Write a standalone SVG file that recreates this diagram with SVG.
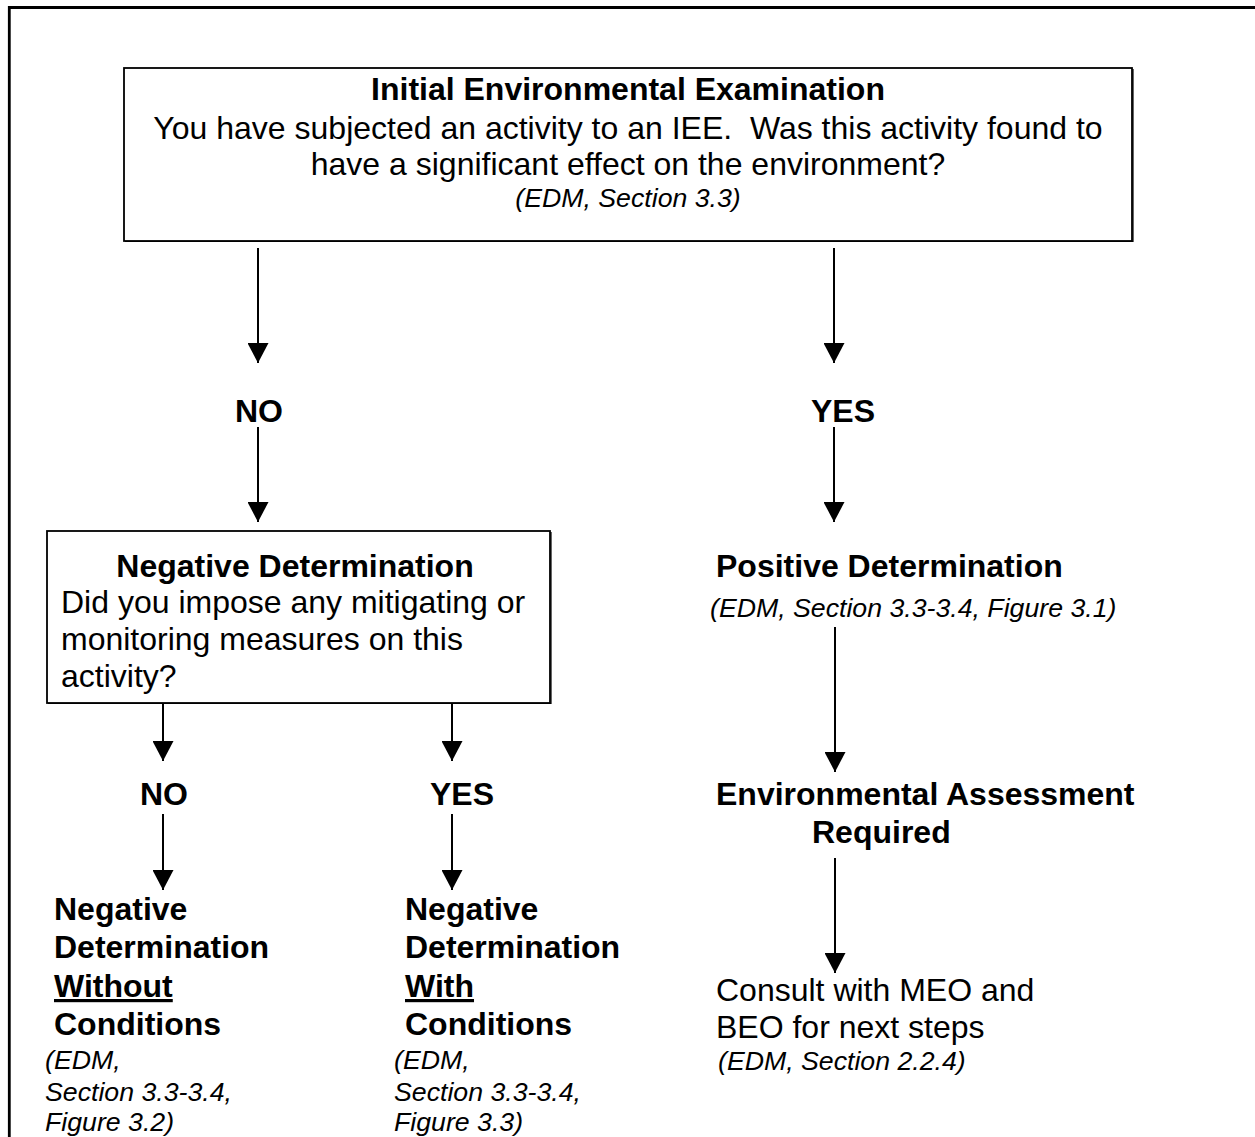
<svg xmlns="http://www.w3.org/2000/svg" width="1255" height="1137" viewBox="0 0 1255 1137">
<style>
text{font-family:"Liberation Sans",Arial,sans-serif;fill:#000}
.b{font-weight:bold;font-size:32px}
.r{font-size:32px}
.i{font-style:italic;font-size:26.7px}
.m{text-anchor:middle}
.box{fill:#fff;stroke:#000;stroke-width:1.8}
.ln{stroke:#000;stroke-width:2;fill:none}
.u{text-decoration:underline}
</style>
<defs>
<marker id="ah" markerWidth="20" markerHeight="21" refX="20" refY="10.5" orient="auto" markerUnits="userSpaceOnUse" viewBox="0 0 20 21">
<path d="M0,0 L20,10.5 L0,21 Z" fill="#000"/>
</marker>
</defs>
<rect width="1255" height="1137" fill="#fff"/>
<path d="M9.3,1140 V7.5 H1260" fill="none" stroke="#000" stroke-width="2.8"/>

<g id="iee">
<rect class="box" x="124" y="68" width="1008" height="173"/>
<path d="M125,241.5 H1133 V69" fill="none" stroke="#000" stroke-width="1.2"/>
<text class="b m" x="628" y="100">Initial Environmental Examination</text>
<text class="r m" x="628" y="139" xml:space="preserve">You have subjected an activity to an IEE.&#160; Was this activity found to</text>
<text class="r m" x="628" y="175">have a significant effect on the environment?</text>
<text class="i m" x="628" y="207">(EDM, Section 3.3)</text>
</g>

<g id="connectors">
<line class="ln" x1="258" y1="248" x2="258" y2="363" marker-end="url(#ah)"/>
<line class="ln" x1="834" y1="248" x2="834" y2="363" marker-end="url(#ah)"/>
<line class="ln" x1="258" y1="427" x2="258" y2="522" marker-end="url(#ah)"/>
<line class="ln" x1="834" y1="427" x2="834" y2="522" marker-end="url(#ah)"/>
<line class="ln" x1="163" y1="704" x2="163" y2="761" marker-end="url(#ah)"/>
<line class="ln" x1="452" y1="704" x2="452" y2="761" marker-end="url(#ah)"/>
<line class="ln" x1="163" y1="814" x2="163" y2="890" marker-end="url(#ah)"/>
<line class="ln" x1="452" y1="814" x2="452" y2="890" marker-end="url(#ah)"/>
<line class="ln" x1="835" y1="627" x2="835" y2="772" marker-end="url(#ah)"/>
<line class="ln" x1="835" y1="858" x2="835" y2="973" marker-end="url(#ah)"/>
</g>

<g id="no1"><text class="b m" x="259" y="422">NO</text></g>
<g id="yes1"><text class="b" x="811" y="422">YES</text></g>

<g id="negdet">
<rect class="box" x="47" y="531" width="503" height="172"/>
<path d="M48,703.5 H551 V532" fill="none" stroke="#000" stroke-width="1.2"/>
<text class="b m" x="295" y="577">Negative Determination</text>
<text class="r" x="61" y="613">Did you impose any mitigating or</text>
<text class="r" x="61" y="650">monitoring measures on this</text>
<text class="r" x="61" y="687">activity?</text>
</g>

<g id="no2"><text class="b m" x="164" y="805">NO</text></g>
<g id="yes2"><text class="b" x="430" y="805">YES</text></g>

<g id="negwithout">
<text class="b" x="54" y="920">Negative</text>
<text class="b" x="54" y="958">Determination</text>
<text class="b u" x="54" y="997">Without</text>
<text class="b" x="54" y="1035">Conditions</text>
<text class="i" x="45" y="1069">(EDM,</text>
<text class="i" x="45" y="1101">Section 3.3-3.4,</text>
<text class="i" x="45" y="1131">Figure 3.2)</text>
</g>

<g id="negwith">
<text class="b" x="405" y="920">Negative</text>
<text class="b" x="405" y="958">Determination</text>
<text class="b u" x="405" y="997">With</text>
<text class="b" x="405" y="1035">Conditions</text>
<text class="i" x="394" y="1069">(EDM,</text>
<text class="i" x="394" y="1101">Section 3.3-3.4,</text>
<text class="i" x="394" y="1131">Figure 3.3)</text>
</g>

<g id="posdet">
<text class="b" x="716" y="577">Positive Determination</text>
<text class="i" x="710" y="617">(EDM, Section 3.3-3.4, Figure 3.1)</text>
</g>

<g id="ea">
<text class="b" x="716" y="805">Environmental Assessment</text>
<text class="b" x="812" y="843">Required</text>
</g>

<g id="consult">
<text class="r" x="716" y="1001">Consult with MEO and</text>
<text class="r" x="716" y="1038">BEO for next steps</text>
<text class="i" x="718" y="1070">(EDM, Section 2.2.4)</text>
</g>
</svg>
